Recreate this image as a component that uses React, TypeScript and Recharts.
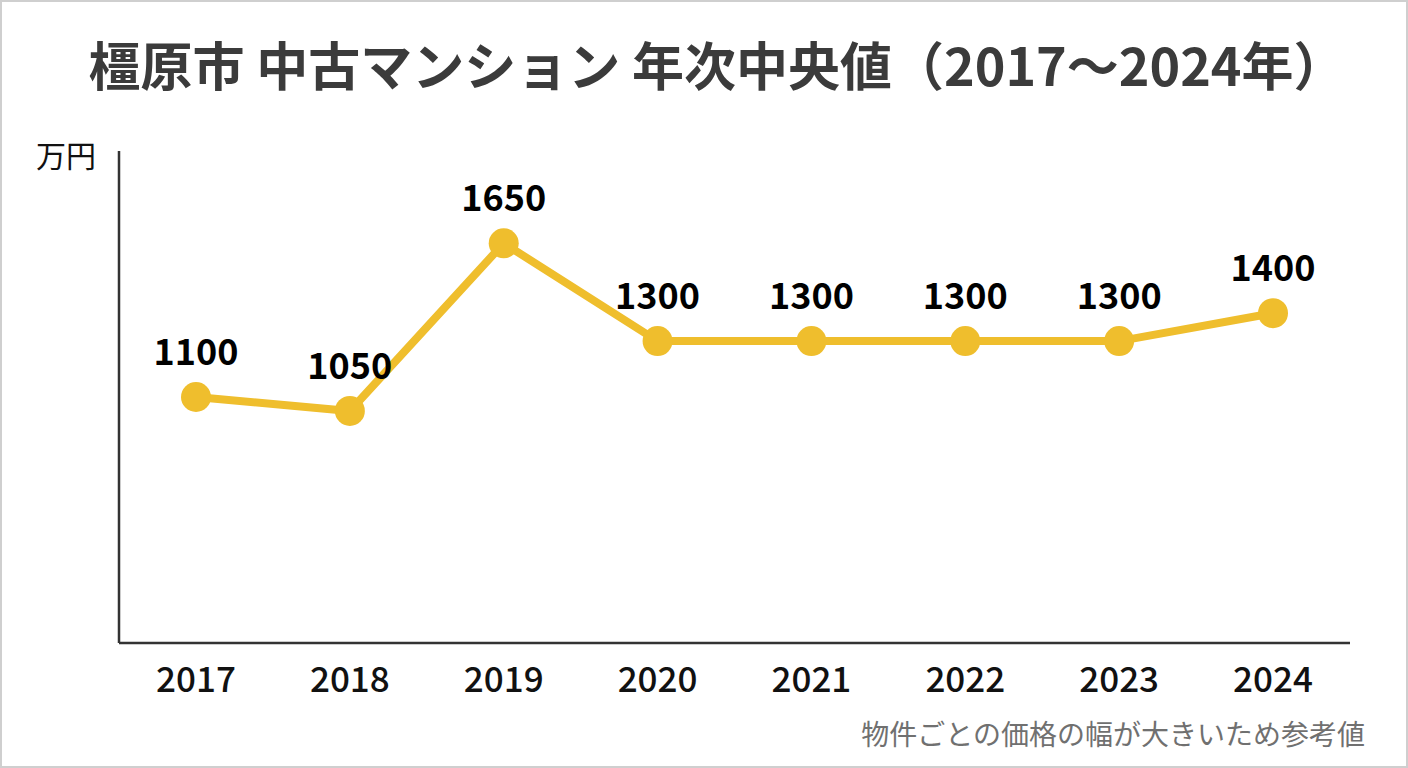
import React from "react";
import { LineChart, Line, XAxis, YAxis, LabelList } from "recharts";

const YEARS = ["2017", "2018", "2019", "2020", "2021", "2022", "2023", "2024"];
const MEDIAN_PRICES = [1100, 1050, 1650, 1300, 1300, 1300, 1300, 1400];

const TITLE = "橿原市 中古マンション 年次中央値（2017〜2024年）";
const UNIT_LABEL = "万円";
const NOTE = "物件ごとの価格の幅が大きいため参考値";

const data = YEARS.map((year, i) => ({ year, price: MEDIAN_PRICES[i] }));

const FONT = '"Noto Sans CJK JP", "Noto Sans", sans-serif';
const LINE_COLOR = "#efbe2d";

export default function App() {
  return (
    <div style={{ position: "absolute", left: 0, top: 0, width: 1408, height: 768, background: "#fff", fontFamily: FONT }}>
      <div
        style={{
          position: "absolute", left: 14, top: 34, width: 1406, textAlign: "center",
          fontSize: 52, fontWeight: 700, color: "#3b3b3b", lineHeight: "60px", whiteSpace: "nowrap",
        }}
      >
        {TITLE}
      </div>
      <div style={{ position: "absolute", left: 36, top: 136, fontSize: 30, color: "#111", lineHeight: "36px" }}>
        {UNIT_LABEL}
      </div>
      <div
        style={{
          position: "absolute", right: 43, top: 716, fontSize: 28, color: "#707070", lineHeight: "34px", whiteSpace: "nowrap",
        }}
      >
        {NOTE}
      </div>
      <LineChart
        width={1408}
        height={768}
        data={data}
        margin={{ top: 151, right: 58, bottom: 65, left: 0 }}
        style={{ position: "absolute", left: 0, top: 0 }}
      >
        <XAxis
          dataKey="year"
          height={60}
          padding={{ left: 77, right: 77 }}
          axisLine={{ stroke: "#333", strokeWidth: 2.5 }}
          tickLine={false}
          tickMargin={18}
          tick={{ fontSize: 35, fontWeight: 500, fill: "#111", fontFamily: FONT }}
        />
        <YAxis
          width={119}
          domain={[220, 1980]}
          tick={false}
          tickLine={false}
          axisLine={{ stroke: "#333", strokeWidth: 2.5 }}
        />
        <Line
          dataKey="price"
          stroke={LINE_COLOR}
          strokeWidth={8}
          dot={{ r: 15, fill: LINE_COLOR, stroke: "none" }}
          activeDot={false}
          isAnimationActive={false}
        >
          <LabelList
            dataKey="price"
            position="top"
            offset={32}
            style={{ fontSize: 36, fontWeight: 700, fill: "#000", fontFamily: FONT }}
          />
        </Line>
      </LineChart>
      <div
        style={{
          position: "absolute", left: 0, top: 0, width: 1408, height: 768, boxSizing: "border-box",
          border: "2px solid #cfcfcf", pointerEvents: "none",
        }}
      />
    </div>
  );
}
